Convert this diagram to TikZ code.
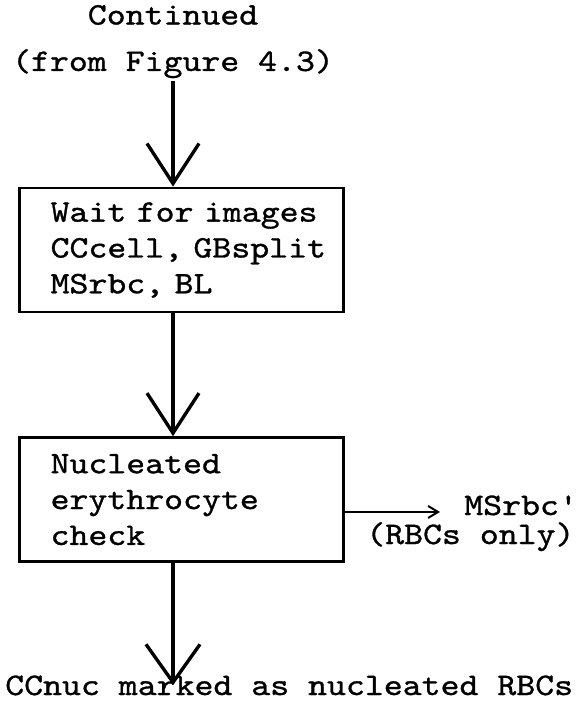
\documentclass[tikz,border=0pt]{standalone}
\usepackage{fontspec}
\newfontfamily\typefont{lmmono10-regular.otf}[FakeBold=1, FakeStretch=1.15]
\usepackage{tikz}
\usetikzlibrary{arrows.meta, positioning, calc}
\tikzset{
  procbox/.style={rectangle, draw=black, line width=2pt, minimum width=8.1cm, minimum height=3.1cm, text width=8.1cm, inner sep=0pt, align=left, execute at begin node={\leftskip=0.775cm}},
  txt/.style={inner sep=0pt},
  flow/.style={-{Straight Barb[length=1cm, width=1.3cm]}, line width=2.4pt},
  sidearrow/.style={-{Straight Barb[length=0.25cm, width=0.3cm]}, line width=1.4pt}
}

\begin{document}
\begin{tikzpicture}[font=\typefont\fontsize{22.3}{25.5}\selectfont]
  \useasboundingbox (0,0) rectangle (14.525,-17.65);

  % Input from previous figure
  \node[txt, align=center, font=\typefont\fontsize{22.3}{33}\selectfont] (cont) at (4.325,-1.04) {Continued\\(from Figure 4.3)};

  % Processing steps
  \node[procbox] (wait) at (4.54,-6.25) {Wait for images\\CCcell, GBsplit\\MSrbc, BL};
  \node[procbox] (check) at (4.54,-12.49) {Nucleated\\erythrocyte\\check};

  % Outputs
  \node[txt, anchor=base west] (msrbc) at (11.6,-12.875) {MSrbc'};
  \node[txt, anchor=base west] (rbconly) at (9.15,-13.6) {(RBCs only)};
  \node[txt, anchor=base west] (nuc) at (0.125,-17.375) {CCnuc marked as nucleated RBCs};

  % Connectors
  \draw[flow, shorten <=2pt] (cont.south) -- (cont.south |- wait.north);
  \draw[flow] (wait.south -| cont.south) -- (check.north -| cont.south);
  \draw[sidearrow, shorten >=0.6cm] (check.east |- msrbc.mid west) -- (msrbc.mid west);
  \draw[flow, -{Straight Barb[length=0.95cm, width=1.35cm]}, shorten >=-0.25cm] (check.south -| cont.south) -- (nuc.north -| cont.south);
\end{tikzpicture}
\end{document}
